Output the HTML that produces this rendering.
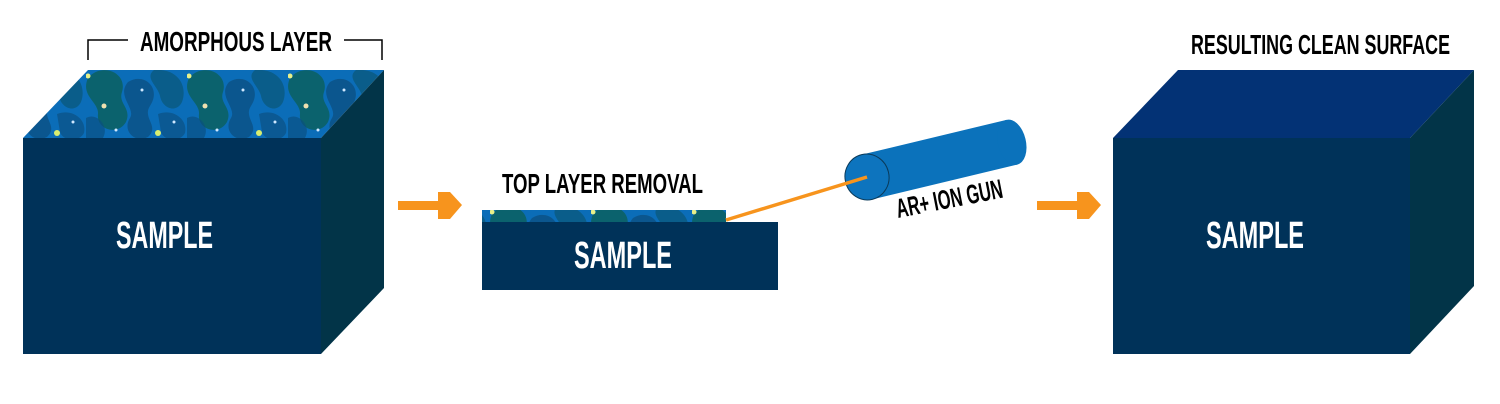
<!DOCTYPE html>
<html><head><meta charset="utf-8"><style>
html,body{margin:0;padding:0;background:#fff;width:1500px;height:404px;overflow:hidden}
svg text{font-family:"Liberation Sans",sans-serif;font-weight:bold;}
</style></head><body>
<svg width="1500" height="404" viewBox="0 0 1500 404" xmlns="http://www.w3.org/2000/svg">
<defs>
<pattern id="amo" patternUnits="userSpaceOnUse" x="86" y="70" width="101" height="68">
<rect width="101" height="68" fill="#0b6db8"/>
<path d="M2 8 C15 -8 42 2 36 22 C32 34 46 38 40 52 C32 66 10 60 12 44 C13 32 -6 26 2 8Z" fill="#0a6060" opacity="0.85"/>
<path d="M42 12 C58 2 76 18 64 36 C56 48 74 56 62 67 C48 74 36 60 44 48 C50 38 30 26 42 12Z" fill="#0a4f80" opacity="0.75"/>
<path d="M68 0 C92 -2 102 16 96 32 C90 44 76 38 74 26 C72 16 58 8 68 0Z" fill="#09587a" opacity="0.75"/>
<path d="M72 44 C88 38 102 50 99 63 C95 72 78 72 75 62 Z" fill="#0a4f80" opacity="0.65"/>
<path d="M0 48 C10 42 24 55 17 68 L0 68Z" fill="#094f80" opacity="0.65"/>
<circle cx="2" cy="6" r="2.5" fill="#e8f08a"/>
<circle cx="18" cy="36" r="2.5" fill="#f0e0b0"/>
<circle cx="72" cy="63" r="3" fill="#d8ee70"/>
<circle cx="56" cy="20" r="1.5" fill="#cfe8ff"/>
<circle cx="88" cy="52" r="1.5" fill="#cfe8ff"/>
<circle cx="30" cy="60" r="1.5" fill="#cfe8ff"/>
</pattern>
</defs>

<!-- Left cube -->
<polygon points="23,138 88,70 384,70 321,138" fill="url(#amo)"/>
<polygon points="321,138 384,70 384,288 321,354" fill="#023448"/>
<rect x="23" y="138" width="298" height="216" fill="#003259"/>
<text x="116" y="248" fill="#fff" font-size="38" textLength="97" lengthAdjust="spacingAndGlyphs">SAMPLE</text>

<!-- bracket -->
<polyline points="88,60 88,40 128,40" fill="none" stroke="#000" stroke-width="1.5"/>
<polyline points="344,40 382,40 382,60" fill="none" stroke="#000" stroke-width="1.5"/>
<text x="140" y="51" fill="#000" font-size="28" textLength="192" lengthAdjust="spacingAndGlyphs">AMORPHOUS LAYER</text>

<!-- arrows -->
<g fill="#f7941d">
<rect x="398" y="201" width="44" height="9"/>
<polygon points="438,192 450,192 462,205 450,219 438,219"/>
<rect x="1037" y="201" width="44" height="9"/>
<polygon points="1077,192 1089,192 1101,205 1089,219 1077,219"/>
</g>

<!-- middle slab -->
<rect x="482" y="222" width="296" height="68" fill="#003259"/>
<rect x="482" y="210" width="244" height="12" fill="url(#amo)"/>
<text x="574" y="268" fill="#fff" font-size="38" textLength="98" lengthAdjust="spacingAndGlyphs">SAMPLE</text>
<text x="502" y="193" fill="#000" font-size="28" textLength="201" lengthAdjust="spacingAndGlyphs">TOP LAYER REMOVAL</text>

<!-- ion gun -->
<g transform="translate(867 177) rotate(-13.5)">
<rect x="0" y="-23" width="149" height="46" fill="#0b72bb"/>
<ellipse cx="149" cy="0" rx="14" ry="23" fill="#0b72bb"/>
<ellipse cx="0" cy="0" rx="22" ry="23" fill="#0d74be" stroke="#0a3a5a" stroke-width="1"/>
</g>
<line x1="726" y1="220" x2="867" y2="177" stroke="#f7941d" stroke-width="3.5"/>
<text x="898" y="218" fill="#000" font-size="27" textLength="108" lengthAdjust="spacingAndGlyphs" transform="rotate(-11 898 218)">AR+ ION GUN</text>

<!-- right cube -->
<polygon points="1113,138 1178,70 1474,70 1410,138" fill="#033275"/>
<polygon points="1410,138 1474,70 1474,286 1410,354" fill="#023448"/>
<rect x="1113" y="138" width="297" height="216" fill="#003259"/>
<text x="1206" y="248" fill="#fff" font-size="38" textLength="98" lengthAdjust="spacingAndGlyphs">SAMPLE</text>
<text x="1191" y="54" fill="#000" font-size="28" textLength="259" lengthAdjust="spacingAndGlyphs">RESULTING CLEAN SURFACE</text>
</svg>
</body></html>
